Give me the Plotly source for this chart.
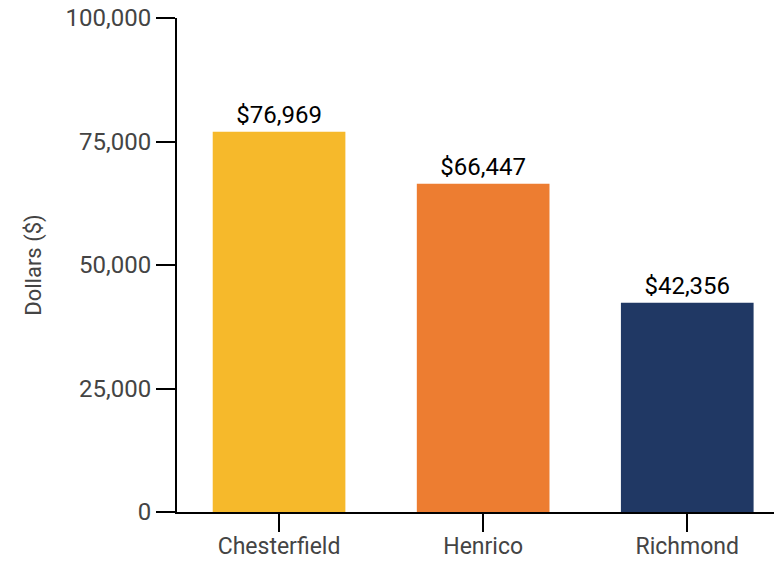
import plotly.graph_objects as go

categories = ["Chesterfield", "Henrico", "Richmond"]
values = [76969, 66447, 42356]
labels = ["$76,969", "$66,447", "$42,356"]
colors = ["#F6B92B", "#ED7D31", "#203864"]
y_ticks = [0, 25000, 50000, 75000, 100000]
y_tick_text = ["0", "25,000", "50,000", "75,000", "100,000"]

fig = go.Figure(go.Bar(
    x=categories, y=values, text=labels, textposition="outside",
    marker=dict(color=colors, line=dict(width=0)),
    textfont=dict(family="Roboto", size=24, color="#000000"),
    cliponaxis=False, width=0.65,
))

fig.update_layout(
    width=774, height=561,
    margin=dict(l=177, r=0, t=18, b=49, autoexpand=False),
    paper_bgcolor="white", plot_bgcolor="white",
    font=dict(family="Roboto", color="#444444"),
    showlegend=False,
    xaxis=dict(
        range=[-0.5, 2.425], showgrid=False, zeroline=False,
        showline=True, linecolor="black", linewidth=2,
        ticks="outside", ticklen=18, tickwidth=2, tickcolor="black",
        tickfont=dict(family="Roboto", size=23, color="#444444"),
        ticklabelstandoff=-6,
        automargin=False,
    ),
    yaxis=dict(
        range=[0, 100000], tickvals=y_ticks, ticktext=y_tick_text,
        showgrid=False, zeroline=False,
        showline=True, linecolor="black", linewidth=2,
        ticks="outside", ticklen=19, tickwidth=2, tickcolor="black",
        tickfont=dict(family="Roboto", size=24, color="#444444"),
        title=dict(text="Dollars ($)", font=dict(family="Roboto", size=22, color="#444444"), standoff=18),
        automargin=False,
    ),
)

fig.write_html(
    "out.html",
    config={"displayModeBar": False},
    post_script="document.body.style.margin='0';document.body.style.padding='0';",
)
